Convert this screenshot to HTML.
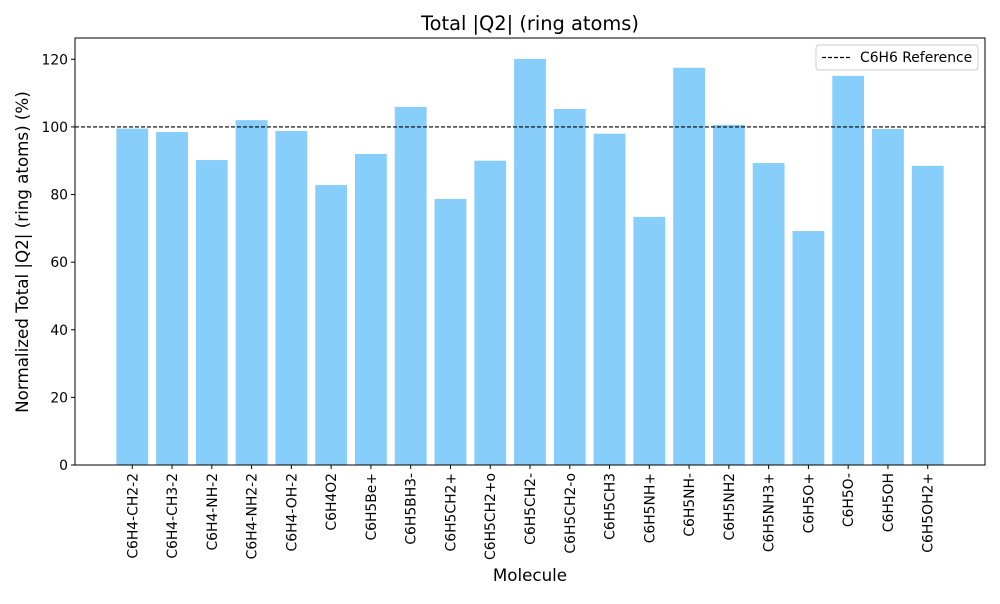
<!DOCTYPE html>
<html><head><meta charset="utf-8"><style>
body{margin:0;background:#fff;font-family:"DejaVu Sans",sans-serif}
</style></head><body>
<svg id="chart" width="1000" height="600" xmlns="http://www.w3.org/2000/svg" font-family="DejaVu Sans, sans-serif">
<text x="530" y="30" font-size="19.4" text-anchor="middle">Total |Q2| (ring atoms)</text>
<text x="530" y="581" font-size="16.7" text-anchor="middle">Molecule</text>
<text x="0" y="0" font-size="16.7" text-anchor="middle" transform="translate(28,252) rotate(-90)">Normalized Total |Q2| (ring atoms) (%)</text>
<g id="bars"></g><g id="ref"></g>
<rect x="75" y="38" width="910" height="427" fill="none" stroke="#000" stroke-width="1"/>
<g id="xt"></g><g id="yt"></g>
<g>
<rect x="816" y="45" width="162" height="25" rx="3" fill="#fff" fill-opacity="0.8" stroke="#ccc"/>
<line x1="822" y1="57.5" x2="852" y2="57.5" stroke="#000" stroke-dasharray="4,2" stroke-width="1.2"/>
<text x="860" y="62" font-size="13.9">C6H6 Reference</text>
</g>
</svg>
<script>
const categories=["C6H4-CH2-2","C6H4-CH3-2","C6H4-NH-2","C6H4-NH2-2","C6H4-OH-2","C6H4O2","C6H5Be+","C6H5BH3-","C6H5CH2+","C6H5CH2+o","C6H5CH2-","C6H5CH2-o","C6H5CH3","C6H5NH+","C6H5NH-","C6H5NH2","C6H5NH3+","C6H5O+","C6H5O-","C6H5OH","C6H5OH2+"];
const values=[99.5,98.5,90.2,102,98.8,82.8,92,105.9,78.7,90,120.1,105.3,98,73.4,117.5,100.6,89.3,69.2,115.1,99.4,88.5];
const yTicks=[0,20,40,60,80,100,120];
const refValue=100;
const NS="http://www.w3.org/2000/svg";
const L=75,R=985,T=38,B=465;
const n=categories.length;
const xmin=-1.44,xmax=n-1+1.44;
const ymax=126.3;
const xs=i=>L+(i-xmin)/(xmax-xmin)*(R-L);
const ys=v=>B-v/ymax*(B-T);
const bw=0.8*(R-L)/(xmax-xmin);
function mk(t,a,p){const e=document.createElementNS(NS,t);for(const k in a)e.setAttribute(k,a[k]);p.appendChild(e);return e;}
const gb=document.getElementById('bars'),gx=document.getElementById('xt'),gy=document.getElementById('yt'),gr=document.getElementById('ref');
values.forEach((v,i)=>{
 const r=mk('rect',{x:xs(i)-bw/2,y:ys(v),width:bw,height:B-ys(v),fill:'#87CEFA'},gb);
 
 
});
categories.forEach((c,i)=>{
 const x=xs(i);
 mk('line',{x1:x,x2:x,y1:B,y2:B+4,stroke:'#000'},gx);
 const t=mk('text',{x:0,y:0,'font-size':13.9,'text-anchor':'end',transform:`translate(${x+5},${B+8}) rotate(-90)`},gx);
 t.textContent=c;
 
 
});
yTicks.forEach(v=>{
 const y=ys(v);
 mk('line',{x1:L-4,x2:L,y1:y,y2:y,stroke:'#000'},gy);
 const t=mk('text',{x:L-7,y:y+5,'font-size':13.9,'text-anchor':'end'},gy);
 t.textContent=v;
 
 
});
const rl=mk('line',{x1:L,x2:R,y1:ys(refValue),y2:ys(refValue),stroke:'#000','stroke-width':1.2,'stroke-dasharray':'4,2'},gr);


</script>
</body></html>
